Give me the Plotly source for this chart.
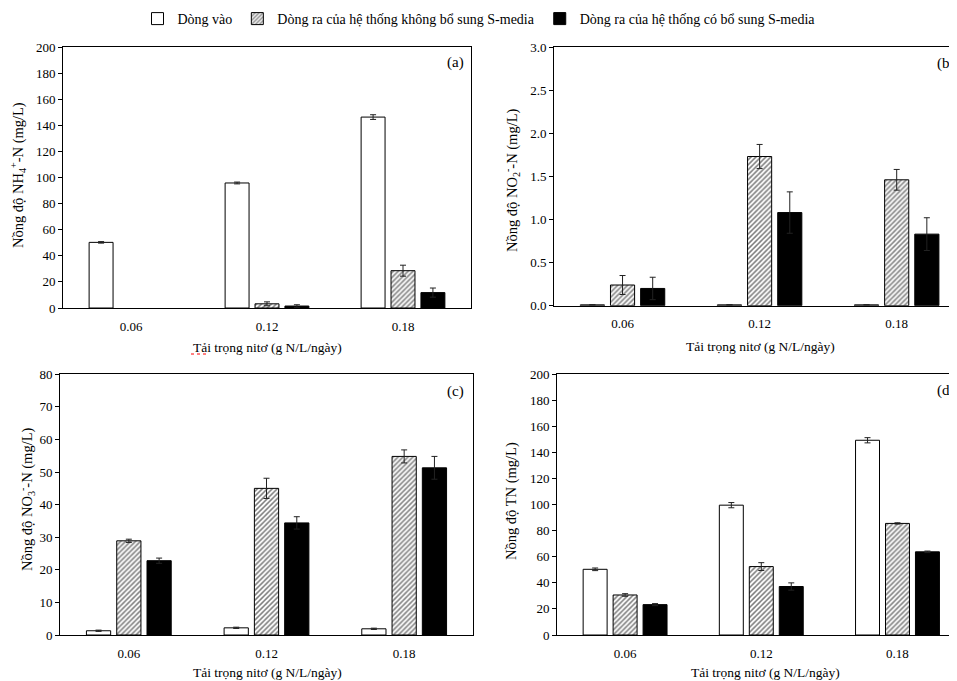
import plotly.graph_objects as go

categories = ["0.06", "0.12", "0.18"]
series_names = ["Dòng vào",
                "Dòng ra của hệ thống không bổ sung S-media",
                "Dòng ra của hệ thống có bổ sung S-media"]

# (a) NH4+-N
nh4_in = [50.3, 95.8, 146.3]
nh4_in_err = [0.6, 0.7, 1.8]
nh4_no = [None, 3.2, 28.6]
nh4_no_err = [None, 1.5, 4.2]
nh4_s = [None, 1.5, 11.8]
nh4_s_err = [None, 1.0, 3.5]

# (b) NO2--N
no2_in = [0.01, 0.01, 0.01]
no2_in_err = [0, 0, 0]
no2_no = [0.24, 1.73, 1.46]
no2_no_err = [0.11, 0.14, 0.12]
no2_s = [0.20, 1.08, 0.83]
no2_s_err = [0.13, 0.24, 0.19]

# (c) NO3--N
no3_in = [1.3, 2.2, 1.9]
no3_in_err = [0.2, 0.2, 0.2]
no3_no = [28.9, 45.0, 54.8]
no3_no_err = [0.5, 3.1, 2.0]
no3_s = [22.8, 34.4, 51.3]
no3_s_err = [0.8, 1.9, 3.5]

# (d) TN
tn_in = [50.4, 99.6, 149.4]
tn_in_err = [1.0, 2.0, 2.0]
tn_no = [30.7, 52.5, 85.6]
tn_no_err = [1.0, 3.0, 0.5]
tn_s = [23.3, 37.2, 63.8]
tn_s_err = [0.8, 2.8, 0.6]

FONT = "Liberation Serif"
xpos = list(range(len(categories)))

panels = [
    ("x", "y", [(nh4_in, nh4_in_err), (nh4_no, nh4_no_err), (nh4_s, nh4_s_err)]),
    ("x2", "y2", [(no2_in, no2_in_err), (no2_no, no2_no_err), (no2_s, no2_s_err)]),
    ("x3", "y3", [(no3_in, no3_in_err), (no3_no, no3_no_err), (no3_s, no3_s_err)]),
    ("x4", "y4", [(tn_in, tn_in_err), (tn_no, tn_no_err), (tn_s, tn_s_err)]),
]

styles = [
    dict(color="white", line=dict(color="black", width=1)),
    dict(color="white", line=dict(color="black", width=1),
         pattern=dict(shape="/", fgcolor="black", bgcolor="white", size=3.5, solidity=0.45)),
    dict(color="black", line=dict(color="black", width=1)),
]

fig = go.Figure()
for pi, (xa, ya, data) in enumerate(panels):
    for si, (vals, errs) in enumerate(data):
        fig.add_trace(go.Bar(
            x=xpos, y=vals, xaxis=xa, yaxis=ya,
            name=series_names[si], legendgroup=series_names[si],
            showlegend=(pi == 0), marker=styles[si],
            error_y=dict(type="data", array=errs, visible=True,
                         color="#222222", thickness=1, width=3),
        ))

# page body has an 8px margin: figure occupies window (8,8)-(957,681)
OFF = 8.0
W = 957.0 - OFF
H = 681.0 - OFF
def py(p):
    return 1 - (p - OFF) / H
def px(p):
    return (p - OFF) / W

axfont = dict(family=FONT, size=13, color="black")
def xaxis(dom, rng, mirror, anchor):
    return dict(domain=dom, range=rng, tickvals=xpos, ticktext=categories,
                anchor=anchor, automargin=False,
                showline=True, linecolor="black", linewidth=1, mirror=mirror,
                ticks="", showgrid=False, zeroline=False, tickfont=axfont,
                ticklabelstandoff=6)
def yaxis(dom, rng, dtick, fmt, mirror, anchor):
    return dict(domain=dom, range=rng, dtick=dtick, tickformat=fmt,
                anchor=anchor, automargin=False,
                showline=True, linecolor="black", linewidth=1, mirror=mirror,
                ticks="outside", ticklen=4, tickcolor="black",
                showgrid=False, zeroline=False, tickfont=axfont)

fig.update_layout(
    width=int(W), height=int(H),
    margin=dict(l=0, r=0, t=0, b=0, pad=0, autoexpand=False),
    paper_bgcolor="white", plot_bgcolor="white",
    barmode="group", bargap=0.34, bargroupgap=0.2,
    font=dict(family=FONT, size=13, color="black"),
    showlegend=True,
    legend=dict(orientation="h", x=px(479), xanchor="center", y=py(3), yanchor="top",
                font=dict(family=FONT, size=14, color="black"),
                itemwidth=30, traceorder="normal", bgcolor="rgba(0,0,0,0)"),
    xaxis=xaxis([px(63), px(471)], [-0.5, 2.5], True, "y"),
    yaxis=yaxis([py(308), py(47)], [0, 200], 20, "d", True, "x"),
    xaxis2=xaxis([px(554), 1.0], [-0.5, 2.44], "allticks", "y2"),
    yaxis2=yaxis([py(305.7), py(47)], [0, 3.0], 0.5, ".1f", False, "x2"),
    xaxis3=xaxis([px(60), px(473)], [-0.5, 2.5], True, "y3"),
    yaxis3=yaxis([py(635), py(374.3)], [0, 80], 10, "d", True, "x3"),
    xaxis4=xaxis([px(557), 1.0], [-0.5, 2.437], "allticks", "y4"),
    yaxis4=yaxis([py(635), py(374.3)], [0, 200], 20, "d", False, "x4"),
)

xtitle = "Tải trọng nitơ (g N/L/ngày)"
ann = []
def a(x, y, text, angle=0, size=13.5, xanchor="center"):
    ann.append(dict(x=px(x), y=py(y), xref="paper", yref="paper", text=text,
                    showarrow=False, textangle=angle, xanchor=xanchor, yanchor="middle",
                    font=dict(family=FONT, size=size, color="black")))

a(267, 347, xtitle)
a(760, 346, xtitle)
a(267, 672, xtitle)
a(765, 672, xtitle)
a(18, 175, "Nồng độ NH<sub>4</sub><sup>+</sup>-N (mg/L)", -90, 14.5)
a(512, 180, "Nồng độ NO<sub>2</sub><sup>-</sup>-N (mg/L)", -90, 14.5)
a(27, 499, "Nồng độ NO<sub>3</sub><sup>-</sup>-N (mg/L)", -90, 14.5)
a(512, 501, "Nồng độ TN (mg/L)", -90, 14.5)
a(466, 62, "(a)", size=15, xanchor="right")
a(957, 63, "(b)", size=15, xanchor="right")
a(466, 391, "(c)", size=15, xanchor="right")
a(957, 390, "(d)", size=15, xanchor="right")
fig.update_layout(annotations=ann)

# red spell-check squiggle under "Tải" in panel (a)
fig.add_shape(type="line", xref="paper", yref="paper",
              x0=px(191), x1=px(206), y0=py(354), y1=py(354),
              line=dict(color="red", width=1, dash="dot"))

fig.write_html("out.html")
